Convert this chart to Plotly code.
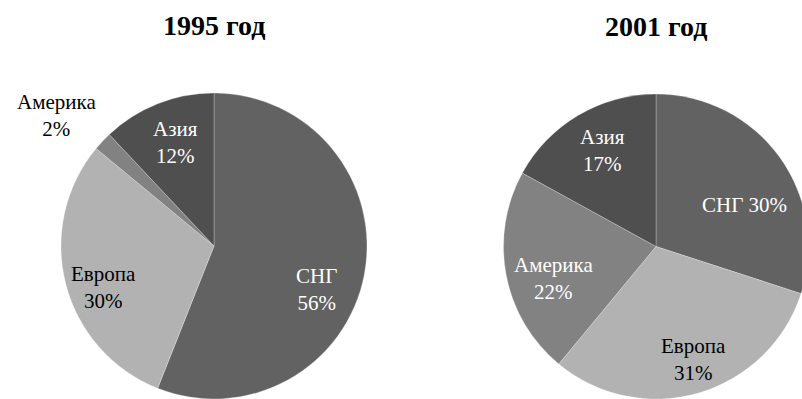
import plotly.graph_objects as go

# Export structure by region (share, %)
regions = ["СНГ", "Европа", "Америка", "Азия"]
share_1995 = [56, 30, 2, 12]
share_2001 = [30, 31, 22, 17]
years = ["1995 год", "2001 год"]

W, H = 812, 399
slice_colors = ["#626262", "#b2b2b2", "#828282", "#4f4f4f"]
serif = "Liberation Serif, Times New Roman, serif"

# pie placement in pixels: (left, right, top, bottom)
pie_boxes = [(60, 368, 93, 399), (502, 810, 94, 399)]

# label centres in pixels for each region, per pie; (x, y, colour, one_line)
label_pos = [
    [(316, 289, "white", False), (103, 287, "black", False),
     (56, 115, "black", False), (175, 142, "white", False)],
    [(744, 205, "white", True), (693, 359, "black", False),
     (553, 278, "white", False), (602, 150, "white", False)],
]
title_pos = [(214, 25), (656, 26)]

fig = go.Figure()
for (l, r, t, b), vals in zip(pie_boxes, [share_1995, share_2001]):
    fig.add_trace(go.Pie(
        labels=regions, values=vals, sort=False, direction="clockwise",
        rotation=0, textinfo="none", hoverinfo="label+percent",
        marker=dict(colors=slice_colors,
                    line=dict(color="rgba(255,255,255,0.25)", width=1)),
        domain=dict(x=[l / W, r / W], y=[(H - b) / H, (H - t) / H]),
        showlegend=False,
    ))

annotations = []
for (tx, ty), title in zip(title_pos, years):
    annotations.append(dict(
        x=tx / W, y=(H - ty) / H, xref="paper", yref="paper",
        text=f"<b>{title}</b>", showarrow=False,
        font=dict(family=serif, size=28, color="black"),
        xanchor="center", yanchor="middle",
    ))

for vals, positions in zip([share_1995, share_2001], label_pos):
    for name, v, (px, py, col, one_line) in zip(regions, vals, positions):
        sep = " " if one_line else "<br>"
        annotations.append(dict(
            x=px / W, y=(H - py) / H, xref="paper", yref="paper",
            text=f"{name}{sep}{v}%", showarrow=False, align="center",
            font=dict(family=serif, size=21, color=col),
            xanchor="center", yanchor="middle",
        ))

fig.update_layout(
    width=W, height=H, autosize=False,
    margin=dict(l=0, r=0, t=0, b=0),
    paper_bgcolor="white", plot_bgcolor="white",
    annotations=annotations,
)

fig.write_html(
    "out.html",
    post_script="document.body.style.margin='0';"
                "document.body.style.overflow='hidden';"
                "document.documentElement.style.overflow='hidden';",
)
